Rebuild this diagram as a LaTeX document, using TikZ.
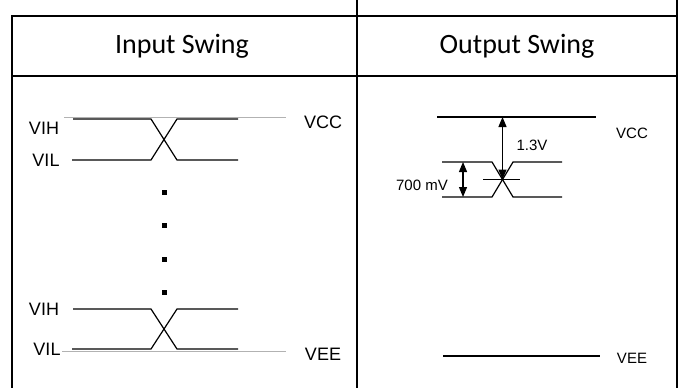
\documentclass[tikz,border=0pt]{standalone}
\usepackage{fontspec}
\setmainfont{Liberation Sans}
\newfontfamily\headfont{Carlito}
\usetikzlibrary{arrows.meta}
\begin{document}
\begin{tikzpicture}[x=1pt,y=-1pt,
  frame/.style={line width=2pt,black},
  sig/.style={line width=1.2pt,black},
  refl/.style={line width=1pt,black!30},
  dotsq/.style={fill=black,minimum size=5pt,inner sep=0pt,draw=none},
  lab/.style={font=\fontsize{18}{20}\selectfont,inner sep=0pt},
  slab/.style={font=\fontsize{15}{17}\selectfont,inner sep=0pt},
  head/.style={font=\headfont\fontsize{28}{30}\selectfont,inner sep=0pt},
  dimarrow/.style={line width=1.2pt,{Triangle[length=10pt,width=8pt]}-{Triangle[length=10pt,width=8pt]}}
]
\useasboundingbox (0,0) rectangle (683,388);
% table frame
\coordinate (ftl) at (11,16);  \coordinate (ftr) at (678,16);
\coordinate (fsl) at (11,76);  \coordinate (fsr) at (678,76);
\coordinate (lt) at (12,15);   \coordinate (lb) at (12,388);
\coordinate (mt) at (357,0);   \coordinate (mb) at (357,388);
\coordinate (rt) at (677,0);   \coordinate (rb) at (677,388);
\draw[frame] (ftl) -- (ftr);
\draw[frame] (fsl) -- (fsr);
\draw[frame] (lt) -- (lb);
\draw[frame] (mt) -- (mb);
\draw[frame] (rt) -- (rb);
\node[head] (hin) at (182,46) {Input Swing};
\node[head] (hout) at (517,46) {Output Swing};

% ---- left panel, top transition
\coordinate (gA) at (64,117.5); \coordinate (gB) at (286,117.5);
\draw[refl] (gA) -- (gB);
\coordinate (a1) at (73,119);  \coordinate (a2) at (151,119);
\coordinate (a3) at (177,160); \coordinate (a4) at (238,160);
\coordinate (b1) at (72,160);  \coordinate (b2) at (151,160);
\coordinate (b3) at (177,119); \coordinate (b4) at (238,119);
\draw[sig] (a1) -- (a2) -- (a3) -- (a4);
\draw[sig] (b1) -- (b2) -- (b3) -- (b4);
\node[lab] (vih1) at (44,128) {VIH};
\node[lab] (vil1) at (46,160) {VIL};
\node[lab] (vcc1) at (323,122) {VCC};

% dots
\node[dotsq] (d1) at (164,192) {};
\node[dotsq] (d2) at (164,225) {};
\node[dotsq] (d3) at (164,259) {};
\node[dotsq] (d4) at (164,292) {};

% ---- left panel, bottom transition
\coordinate (gC) at (62,351); \coordinate (gD) at (286,351);
\draw[refl] (gC) -- (gD);
\coordinate (c1) at (73,309);  \coordinate (c2) at (151,309);
\coordinate (c3) at (177,349); \coordinate (c4) at (238,349);
\coordinate (e1) at (72,349);  \coordinate (e2) at (151,349);
\coordinate (e3) at (177,309); \coordinate (e4) at (238,309);
\draw[sig] (c1) -- (c2) -- (c3) -- (c4);
\draw[sig] (e1) -- (e2) -- (e3) -- (e4);
\node[lab] (vih2) at (44,309) {VIH};
\node[lab] (vil2) at (47,349) {VIL};
\node[lab] (vee1) at (323,354) {VEE};

% ---- right panel
\coordinate (vccL) at (437,117); \coordinate (vccR) at (596,117);
\draw[sig] (vccL) -- (vccR);
\coordinate (p1) at (442,162); \coordinate (p2) at (492,162);
\coordinate (p3) at (513,197); \coordinate (p4) at (562,197);
\coordinate (q1) at (442,197); \coordinate (q2) at (492,197);
\coordinate (q3) at (513,162); \coordinate (q4) at (562,162);
\draw[sig] (p1) -- (p2) -- (p3) -- (p4);
\draw[sig] (q1) -- (q2) -- (q3) -- (q4);
\coordinate (tk1) at (483,179.5); \coordinate (tk2) at (520,179.5);
\draw[sig] (tk1) -- (tk2);
\coordinate (ar1) at (502.5,117); \coordinate (ar2) at (502.5,179.5);
\draw[dimarrow] (ar1) -- (ar2);
\coordinate (mv1) at (463,162); \coordinate (mv2) at (463,197);
\draw[dimarrow] (mv1) -- (mv2);
\node[slab] (l13) at (532,145) {1.3V};
\node[slab] (l700) at (422,185) {700 mV};
\node[slab] (vcc2) at (632,133) {VCC};
\coordinate (veeL) at (443,356); \coordinate (veeR) at (600,356);
\draw[sig] (veeL) -- (veeR);
\node[slab] (vee2) at (632,358) {VEE};
\end{tikzpicture}
\end{document}
